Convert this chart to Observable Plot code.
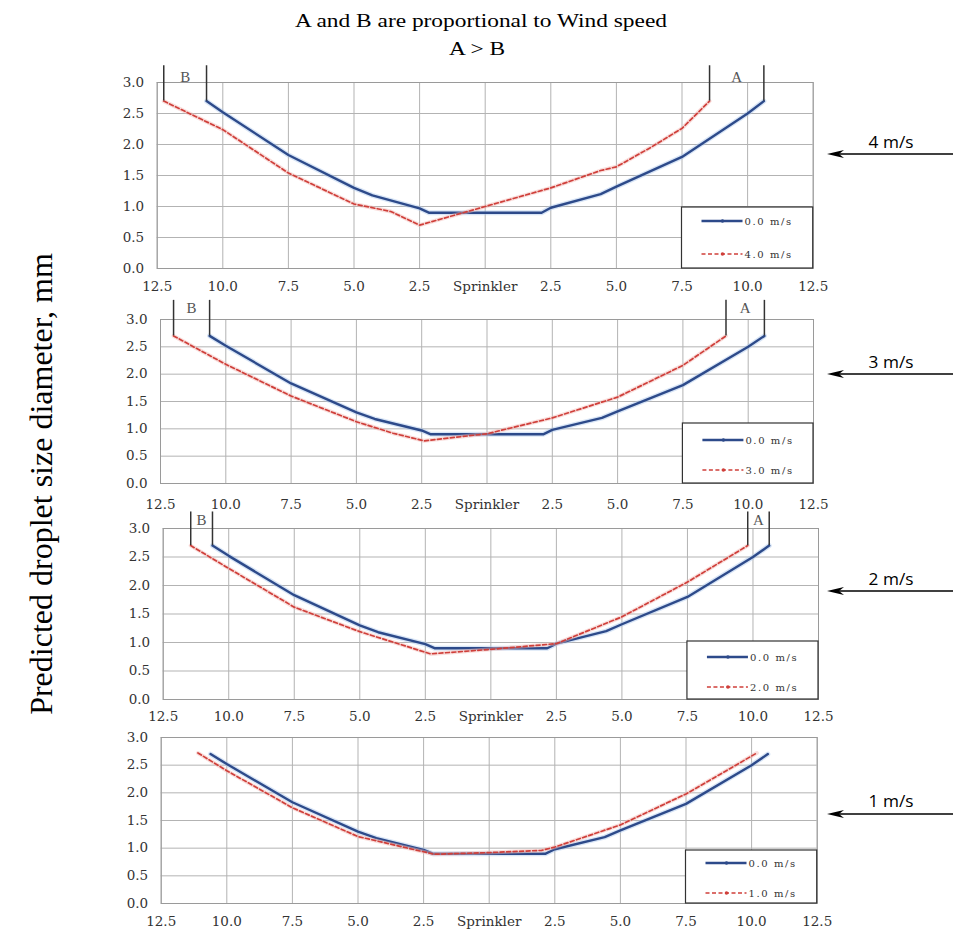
<!DOCTYPE html>
<html>
<head>
<meta charset="utf-8">
<script src="https://cdn.jsdelivr.net/npm/d3@7"></script>
<script src="https://cdn.jsdelivr.net/npm/@observablehq/plot@0.6"></script>
<style>
  body { margin: 0; background: #fff; }
  #page { position: relative; width: 953px; height: 931px; overflow: hidden; background: #fff; }
</style>
</head>
<body>
<div id="page"></div>
<script>
// ---------- data ----------
const xTicks = [-12.5, -10, -7.5, -5, -2.5, 0, 2.5, 5, 7.5, 10, 12.5];
const xTickLabels = ["12.5", "10.0", "7.5", "5.0", "2.5", "Sprinkler", "2.5", "5.0", "7.5", "10.0", "12.5"];
const yTicks = [0, 0.5, 1, 1.5, 2, 2.5, 3];
const yTickLabels = ["0.0", "0.5", "1.0", "1.5", "2.0", "2.5", "3.0"];

const calmLabel = "0.0 m/s";
const calmX = [-10.62, -10, -7.5, -5, -4.3, -2.5, -2.15, 0, 2.15, 2.5, 4.4, 5, 7.5, 10, 10.62];
const calmY = [2.7, 2.52, 1.83, 1.3, 1.18, 0.97, 0.9, 0.9, 0.9, 0.98, 1.2, 1.32, 1.8, 2.5, 2.7];

const windLabels = ["4.0 m/s", "3.0 m/s", "2.0 m/s", "1.0 m/s"];
const arrowLabels = ["4 m/s", "3 m/s", "2 m/s", "1 m/s"];

const wind4X = [-12.25, -10, -7.5, -5, -3.6, -2.5, 0, 2.5, 4.4, 5, 6.3, 7.5, 8.55];
const wind4Y = [2.7, 2.24, 1.54, 1.04, 0.92, 0.7, 1.0, 1.3, 1.58, 1.64, 1.95, 2.26, 2.7];
const wind3X = [-12.0, -10, -7.5, -5, -3.6, -2.4, 0, 2.5, 5, 7.5, 9.15];
const wind3Y = [2.7, 2.18, 1.6, 1.13, 0.92, 0.78, 0.91, 1.2, 1.58, 2.16, 2.7];
const wind2X = [-11.45, -10, -7.5, -5, -2.3, 0, 2.5, 5, 7.5, 9.8];
const wind2Y = [2.7, 2.3, 1.62, 1.19, 0.8, 0.88, 0.98, 1.45, 2.06, 2.7];
const wind1X = [-11.1, -10, -7.5, -5, -2.1, 0, 2.0, 2.5, 5, 7.5, 10.2];
const wind1Y = [2.72, 2.4, 1.73, 1.21, 0.89, 0.92, 0.96, 1.02, 1.42, 1.98, 2.72];

const windXs = [wind4X, wind3X, wind2X, wind1X];
const windYs = [wind4Y, wind3Y, wind2Y, wind1Y];
const showAB = [true, true, true, false];

const titleLines = ["A and B are proportional to Wind speed", "A > B"];
const yAxisTitle = "Predicted droplet size diameter, mm";

// ---------- layout (page pixels) ----------
const layout = [
  {left: 156.7, right: 812.7, top: 81.7,  bottom: 267.7, xPad: 12.5, markTop: 3.27, abY: 3.09, legH: 61, r1: 14, r2: 47, arrowY: 154, textY: 148},
  {left: 160.0, right: 813.0, top: 319.3, bottom: 483.3, xPad: 15.5, markTop: 3.35, abY: 3.21, legH: 60, r1: 17, r2: 47, arrowY: 374, textY: 368},
  {left: 162.7, right: 818.0, top: 528.3, bottom: 699.3, xPad: 11.5, markTop: 3.29, abY: 3.15, legH: 58, r1: 16, r2: 46, arrowY: 591, textY: 585},
  {left: 160.7, right: 816.7, top: 737.3, bottom: 903.3, xPad: 12.5, markTop: 3.3,  abY: 3.15, legH: 53, r1: 13, r2: 43, arrowY: 814, textY: 807}
];
const W = 953, H = 931;
const MT = 40, MB = 32;

const page = document.getElementById("page");
const xLabelMap = new Map(xTicks.map((d, i) => [d, xTickLabels[i]]));
const yLabelMap = new Map(yTicks.map((d, i) => [d, yTickLabels[i]]));

const CALM = "#2d4a8a", WIND = "#cf3f3a";

// ---------- overlay: title, y title, arrows ----------
const ov = d3.select(page).append("svg")
  .attr("width", W).attr("height", H)
  .style("position", "absolute").style("left", "0px").style("top", "0px");

ov.append("text")
  .attr("transform", "translate(481,27) scale(1.2,1)")
  .attr("text-anchor", "middle")
  .attr("font-family", "Liberation Serif, Times New Roman, serif")
  .attr("font-size", 19.5).attr("fill", "#000")
  .text(titleLines[0]);
ov.append("text")
  .attr("transform", "translate(477,55) scale(1.2,1)")
  .attr("text-anchor", "middle")
  .attr("font-family", "Liberation Serif, Times New Roman, serif")
  .attr("font-size", 19.5).attr("fill", "#000")
  .text(titleLines[1]);

ov.append("text")
  .attr("transform", "translate(52,484) rotate(-90)")
  .attr("text-anchor", "middle")
  .attr("font-family", "Liberation Serif, Times New Roman, serif")
  .attr("font-size", 32).attr("fill", "#000")
  .text(yAxisTitle);

layout.forEach((L, i) => {
  const y = L.arrowY, tip = 827;
  ov.append("line").attr("x1", tip + 6).attr("x2", W).attr("y1", y).attr("y2", y)
    .attr("stroke", "#000").attr("stroke-width", 1.3);
  ov.append("path")
    .attr("d", `M${tip},${y} L${tip + 17},${y - 4} L${tip + 12},${y} L${tip + 17},${y + 4} Z`)
    .attr("fill", "#000");
  ov.append("text")
    .attr("transform", `translate(891,${L.textY}) scale(1.08,1)`)
    .attr("text-anchor", "middle")
    .attr("font-family", "Open Sans, Liberation Sans, sans-serif")
    .attr("font-size", 16).attr("fill", "#000")
    .text(arrowLabels[i]);
});

// ---------- panels ----------
function legendMark(i) {
  const L = layout[i];
  return (index, scales, values, dims) => {
    const x0 = typeof scales.x === "function" ? scales.x(xTicks[8])
      : dims.marginLeft + (xTicks[8] - xTicks[0]) / (xTicks[10] - xTicks[0]) * (dims.width - dims.marginLeft - dims.marginRight);
    const xr = dims.width - dims.marginRight;
    const yb = dims.height - dims.marginBottom;
    const yt = yb - L.legH;
    const g = d3.create("svg:g");
    g.append("rect").attr("x", x0).attr("y", yt).attr("width", xr - x0).attr("height", L.legH)
      .attr("fill", "#fff").attr("stroke", "#333").attr("stroke-width", 1.2);
    const rows = [
      {y: yt + L.r1, color: CALM, dash: null, w: 2.4, label: calmLabel},
      {y: yt + L.r2, color: WIND, dash: "4,2.5", w: 1.7, label: windLabels[i]}
    ];
    for (const r of rows) {
      const l = g.append("line").attr("x1", x0 + 20).attr("x2", x0 + 61).attr("y1", r.y).attr("y2", r.y)
        .attr("stroke", r.color).attr("stroke-width", r.w);
      if (r.dash) l.attr("stroke-dasharray", r.dash);
      g.append("circle").attr("cx", x0 + 41).attr("cy", r.y).attr("r", 1.8).attr("fill", r.color);
      g.append("text").attr("x", x0 + 63).attr("y", r.y).attr("dy", "0.35em")
        .attr("text-anchor", "start")
        .attr("font-family", "DejaVu Serif, serif").attr("font-size", 10)
        .attr("letter-spacing", 1.6).attr("fill", "#333").text(r.label);
    }
    return g.node();
  };
}

layout.forEach((L, i) => {
  const calm = calmX.map((x, j) => ({x, y: calmY[j]}));
  const wind = windXs[i].map((x, j) => ({x, y: windYs[i][j]}));
  const marks = [
    Plot.gridX(xTicks, {stroke: "#b3b3b3", strokeOpacity: 1}),
    Plot.gridY(yTicks, {stroke: "#b3b3b3", strokeOpacity: 1}),
    Plot.frame({stroke: "#9a9a9a"}),
    Plot.axisX(xTicks, {tickSize: 0, tickPadding: L.xPad, label: null, color: "#333",
      tickFormat: d => xLabelMap.get(d)}),
    Plot.axisY(yTicks, {tickSize: 0, tickPadding: 13, label: null, color: "#333",
      tickFormat: d => yLabelMap.get(d)}),
    legendMark(i),
    Plot.line(calm, {x: "x", y: "y", stroke: "#a8c6ec", strokeWidth: 5, strokeOpacity: 0.45}),
    Plot.line(calm, {x: "x", y: "y", stroke: CALM, strokeWidth: 2.4}),
    Plot.line(wind, {x: "x", y: "y", stroke: "#f2b6b2", strokeWidth: 4, strokeOpacity: 0.45}),
    Plot.line(wind, {x: "x", y: "y", stroke: WIND, strokeWidth: 1.7, strokeDasharray: "4,2.5"})
  ];
  if (showAB[i]) {
    const ends = [wind[0], calm[0], wind[wind.length - 1], calm[calm.length - 1]];
    marks.push(Plot.ruleX(ends, {x: "x", y1: "y", y2: () => L.markTop, stroke: "#333", strokeWidth: 1.5}));
    marks.push(Plot.text([
      {x: (wind[0].x + calm[0].x) / 2, t: "B"},
      {x: (wind[wind.length - 1].x + calm[calm.length - 1].x) / 2, t: "A"}
    ], {x: "x", y: () => L.abY, text: "t", fontFamily: "Liberation Serif, serif", fontSize: 15, fill: "#555"}));
  }
  const h = (L.bottom - L.top) + MT + MB;
  const svg = Plot.plot({
    width: W,
    height: h,
    marginLeft: L.left,
    marginRight: W - L.right,
    marginTop: MT,
    marginBottom: MB,
    x: {domain: [xTicks[0], xTicks[xTicks.length - 1]]},
    y: {domain: [yTicks[0], yTicks[yTicks.length - 1]]},
    style: {fontFamily: "DejaVu Serif, serif", fontSize: "13.5px", background: "transparent", overflow: "visible"},
    marks
  });
  svg.style.position = "absolute";
  svg.style.left = "0px";
  svg.style.top = (L.top - MT) + "px";
  svg.style.maxWidth = "none";
  page.appendChild(svg);
});
</script>
</body>
</html>
